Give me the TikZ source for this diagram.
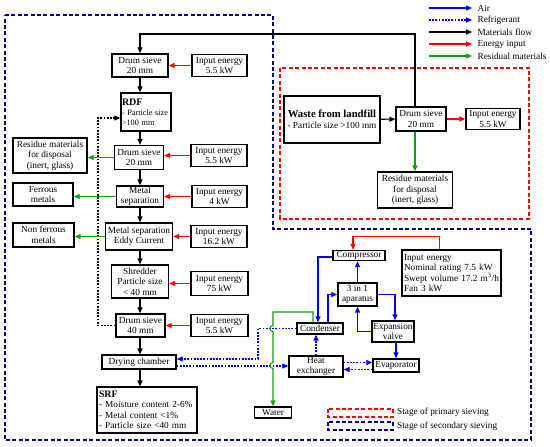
\documentclass[tikz,border=0pt]{standalone}
\usepackage{fontspec}
\setmainfont{Liberation Serif}
\usetikzlibrary{positioning,arrows.meta}
\definecolor{figRouge}{RGB}{255,0,0}
\definecolor{figBleu}{RGB}{0,0,255}
\definecolor{figMarine}{RGB}{0,0,140}
\definecolor{figVert}{RGB}{20,160,20}

\begin{document}
\begin{tikzpicture}[
  x=1pt, y=-1pt,
  every node/.style={font=\fontsize{9.3}{10.5}\selectfont},
  box/.style={draw, line width=1.3pt, inner sep=1pt, align=center},
  lbox/.style={draw, line width=1.3pt, inner sep=2pt, align=left},
  flow/.style={-{Triangle[length=6pt,width=5pt]}, line width=1.1pt, black},
  energy/.style={flow, figRouge},
  resid/.style={flow, figVert},
  air/.style={flow, figBleu},
  refrig/.style={flow, figBleu, dash pattern=on 1.8pt off 1.4pt},
  retour/.style={flow, dash pattern=on 1.8pt off 1.4pt},
  stage/.style={line width=2.2pt, dash pattern=on 4pt off 2.4pt},
  lgd/.style={anchor=west, inner sep=0pt, text=black}
]
\useasboundingbox (0,0) rectangle (550,447);

% ---- zones : tri primaire et tri secondaire ----
\draw[stage, figMarine] (5,15) -- (273,15) -- (273,229) -- (531,229) -- (531,440) -- (5,440) -- cycle;
\draw[stage, figRouge] (280,68) rectangle (529,219);

% ---- tri primaire ----
\node[box, minimum width=96pt, minimum height=47pt] (waste) at (332,119.5)
     {{\fontsize{10.7}{12}\selectfont\textbf{Waste from landfill}}\\- Particle size >100 mm};
\node[box, minimum width=50pt, minimum height=24pt] (dsp) at (421,119) {Drum sieve\\20 mm};
\node[box, minimum width=54pt, minimum height=21pt] (ep) at (493,119) {Input energy\\5.5 kW};
\node[box, minimum width=75pt, minimum height=36pt] (resp) at (415,190)
     {Residue materials\\for disposal\\(inert, glass)};

\draw[flow] (waste) -- (dsp);
\draw[energy] (dsp) -- (ep);
\draw[resid] ([xshift=-6pt]dsp.south) -- ([xshift=-6pt]dsp.south |- resp.north);

% ---- tri secondaire : colonne principale ----
\node[box, minimum width=56pt, minimum height=23pt] (ds1) at (140,65.5) {Drum sieve\\20 mm};
\node[lbox, text width=48pt, inner sep=1pt, minimum height=38pt, font=\fontsize{8.2}{10}\selectfont] (rdf) at (146,112)
     {{\fontsize{10}{10}\selectfont\textbf{RDF}}\\- Particle size\\>100 mm};
\node[box, minimum width=49pt, minimum height=24pt] (ds2) at (139,157.5) {Drum sieve\\20 mm};
\node[box, minimum width=47pt, minimum height=20pt] (msep) at (140,196.5) {Metal\\separation};
\node[box, minimum width=67pt, minimum height=27pt] (eddy) at (139,236.5) {Metal separation\\Eddy Current};
\node[box, minimum width=57pt, minimum height=33pt] (shred) at (140,281.5) {Shredder\\Particle size\\< 40 mm};
\node[box, minimum width=49pt, minimum height=23pt] (ds3) at (140.5,325.5) {Drum sieve\\40 mm};
\node[box, minimum width=74pt, minimum height=14pt] (dry) at (139,362) {Drying chamber};
\node[lbox, text width=96pt, minimum height=46pt] (srf) at (147,410)
     {{\fontsize{9.8}{10.5}\selectfont\textbf{SRF}}\\- Moisture content 2-6\%\\- Metal content <1\%\\- Particle size <40 mm};

% ---- énergie apportée ----
\node[box, minimum width=55pt, minimum height=22pt] (e1) at (219.5,65.5) {Input energy\\5.5 kW};
\node[box, minimum width=56pt, minimum height=22pt] (e2) at (219,155.5) {Input energy\\5.5 kW};
\node[box, minimum width=55pt, minimum height=22pt] (e3) at (219.5,196.5) {Input energy\\4 kW};
\node[box, minimum width=56pt, minimum height=22pt] (e4) at (219,236.5) {Input energy\\16.2 kW};
\node[box, minimum width=57pt, minimum height=24pt] (e5) at (219.5,283.5) {Input energy\\75 kW};
\node[box, minimum width=57pt, minimum height=22pt] (e6) at (219.5,325.5) {Input energy\\5.5 kW};

% ---- rejets ----
\node[box, minimum width=74pt, minimum height=35pt] (res1) at (50,155.5)
     {Residue materials\\for disposal\\(inert, glass)};
\node[box, minimum width=60pt, minimum height=23pt] (fer) at (43,194.5) {Ferrous\\metals};
\node[box, minimum width=61pt, minimum height=24pt] (nfer) at (43.5,235) {Non ferrous\\metals};

\coordinate (tl) at (140,34);
\draw[flow] ([xshift=-6pt]dsp.north) |- (tl) -- (ds1.north);
\draw[flow] (ds1.south) -- (ds1.south |- rdf.north);
\draw[flow] (ds1.south |- rdf.south) -- (ds2.north -| ds1.south);
\draw[flow] (ds2.south -| ds1.south) -- (msep.north -| ds1.south);
\draw[flow] (msep.south -| ds1.south) -- (eddy.north -| ds1.south);
\draw[flow] (eddy.south -| ds1.south) -- (shred.north -| ds1.south);
\draw[flow] (shred.south -| ds1.south) -- (ds3.north -| ds1.south);
\draw[flow] (ds3.south -| ds1.south) -- (dry.north -| ds1.south);
\draw[flow] (dry.south -| ds1.south) -- (srf.north -| ds1.south);

\coordinate (fb) at (98,118);
\draw[retour] (ds3.west) -| (fb) -- (fb -| rdf.west);

\draw[energy] (e1.west) -- (e1.west -| ds1.east);
\draw[energy] (e2.west) -- (e2.west -| ds2.east);
\draw[energy] (e3.west) -- (e3.west -| msep.east);
\draw[energy] (e4.west) -- (e4.west -| eddy.east);
\draw[energy] (e5.west) -- (e5.west -| shred.east);
\draw[energy] (e6.west) -- (e6.west -| ds3.east);

\draw[resid] (ds2.west) -- (ds2.west -| res1.east);
\draw[resid] (msep.west) -- (msep.west -| fer.east);
\draw[resid] (eddy.west) -- (eddy.west -| nfer.east);

% ---- pompe à chaleur du séchage ----
\node[box, minimum width=52pt, minimum height=10pt, inner sep=0.5pt] (comp) at (359,255.5) {Compressor};
\node[lbox, text width=95pt, minimum height=46pt] (inhp) at (451.5,273)
     {Input energy\\Nominal rating 7.5 kW\\Swept volume 17.2 m\textsuperscript{3}/h\\Fan 3 kW};
\node[box, minimum width=39pt, minimum height=23pt] (app) at (357.5,294.5) {3 in 1\\aparatus};
\node[box, minimum width=46pt, minimum height=11pt, inner sep=0.5pt] (cond) at (320,328.5) {Condenser};
\node[box, minimum width=42pt, minimum height=21pt] (exv) at (393,331.5) {Expansion\\valve};
\node[box, minimum width=46pt, minimum height=13pt, inner sep=0.5pt] (evap) at (396,365.5) {Evaporator};
\node[box, minimum width=54pt, minimum height=21pt] (hx) at (316,366.5) {Heat\\exchanger};
\node[box, minimum width=37pt, minimum height=11pt, inner sep=0.5pt] (water) at (273,412.5) {Water};

\draw[energy] ([xshift=-12pt]inhp.north) -- ++(0,-13) -| ([xshift=-6pt]comp.north);
\draw[air] (app.north) -- (app.north |- comp.south);
\draw[air] ([yshift=-1.5pt]comp.west) -| ([xshift=-2pt]cond.north);
\draw[air] ([xshift=8pt]cond.north) |- (app.west);
\draw[air] (app.east) -| ([xshift=2pt]exv.north);
\draw[air] (exv.west) -| (app.south);
\draw[air] (exv.south -| evap.north) -- (evap.north);

\draw[refrig] ([yshift=4pt]hx.east) -- ([yshift=4pt]hx.east -| evap.west);
\draw[refrig] ([yshift=-4pt]evap.west) -- ([yshift=-4pt]evap.west -| hx.east);
\draw[refrig] (hx.north) -- (hx.north |- cond.south);
\coordinate (rc) at (258,359);
\draw[refrig] (cond.west) -| (rc) -- (rc -| dry.east);
\draw[refrig] ([yshift=-4pt]dry.east) -- ([yshift=-4pt]dry.east -| hx.west);

\coordinate (wb) at (273,312);
\draw[resid] ([xshift=-7pt]cond.north) |- (wb) -- (273,325.5)
     .. controls (269,325.5) and (269,331.5) .. (273,331.5) -- (273,362.5)
     .. controls (269,362.5) and (269,368.5) .. (273,368.5) -- (water.north);

% ---- légende ----
\coordinate (lgA) at (429,8);    \coordinate (lgAe) at (472,8);
\coordinate (lgR) at (429,20);   \coordinate (lgRe) at (472,20);
\coordinate (lgM) at (429,32);   \coordinate (lgMe) at (472,32);
\coordinate (lgE) at (429,44);   \coordinate (lgEe) at (472,44);
\coordinate (lgD) at (429,56);   \coordinate (lgDe) at (472,56);
\draw[air] (lgA) -- (lgAe) node[lgd, right=5pt] (lgAir) {Air};
\draw[refrig] (lgR) -- (lgRe) node[lgd, right=5pt] (lgRef) {Refrigerant};
\draw[flow] (lgM) -- (lgMe) node[lgd, right=5pt] (lgMat) {Materials flow};
\draw[energy] (lgE) -- (lgEe) node[lgd, right=5pt] (lgEne) {Energy input};
\draw[resid] (lgD) -- (lgDe) node[lgd, right=5pt] (lgRes) {Residual materials};

\draw[stage, figRouge] (328,409) rectangle (393,417);
\draw[stage, figMarine] (328,422) rectangle (393,430);
\node[lgd] (lgPrim) at (397,412.5) {Stage of primary sieving};
\node[lgd] (lgSec) at (397,426) {Stage of secondary sieving};

\end{tikzpicture}
\end{document}
